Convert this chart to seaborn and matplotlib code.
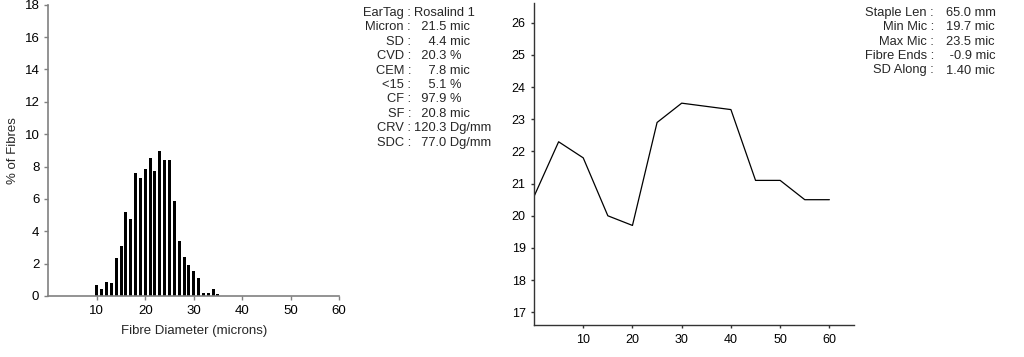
import numpy as np
import pandas as pd
import seaborn as sns
from matplotlib import pyplot as plt

# Fibre diameter histogram (% of fibres per micron class)
diameters = list(range(10, 36))
pct_fibres = [0.66, 0.45, 0.88, 0.78, 2.33, 3.1, 5.2, 4.77, 7.6, 7.3,
              7.86, 8.5, 7.75, 8.93, 8.4, 8.4, 5.86, 3.42, 2.43, 1.9,
              1.52, 1.13, 0.2, 0.2, 0.45, 0.1]

# Micron profile along the staple
position = [0, 5, 10, 15, 20, 25, 30, 35, 40, 45, 50, 55, 60]
micron_along = [20.6, 22.3, 21.8, 20.0, 19.7, 22.9, 23.5, 23.4, 23.3, 21.1, 21.1, 20.5, 20.5]

stats_left_labels = ["EarTag :", "Micron :", "SD :", "CVD :", "CEM :", "<15 :",
                     "CF :", "SF :", "CRV :", "SDC :"]
stats_left_values = ["Rosalind 1", "  21.5 mic", "    4.4 mic", "  20.3 %", "    7.8 mic",
                     "    5.1 %", "  97.9 %", "  20.8 mic", "120.3 Dg/mm", "  77.0 Dg/mm"]
stats_right_labels = ["Staple Len :", "Min Mic :", "Max Mic :", "Fibre Ends :", "SD Along :"]
stats_right_values = ["65.0 mm", "19.7 mic", "23.5 mic", " -0.9 mic", "1.40 mic"]

sns.set_style("ticks")
plt.rcParams['font.family'] = ['Liberation Sans', 'DejaVu Sans']

W, H = 1024, 357
fig = plt.figure(figsize=(W / 100, H / 100), dpi=100)


def px(x, y):
    return x / W, 1 - y / H


# left: histogram
ax1 = fig.add_axes([48.4 / W, (H - 296) / H, (339 - 48.4) / W, (296 - 4.7) / H])
df = pd.DataFrame({"diam": diameters, "pct": pct_fibres})
sns.barplot(data=df, x="diam", y="pct", native_scale=True, color="black",
            width=0.62, saturation=1, linewidth=0, ax=ax1)
ax1.set_xlim(0, 60)
ax1.set_ylim(0, 18)
ax1.set_xticks(np.arange(10, 61, 10))
ax1.set_yticks(np.arange(0, 19, 2))
ax1.set_xlabel("Fibre Diameter (microns)", fontsize=9.5, labelpad=6)
ax1.set_ylabel("% of Fibres", fontsize=9.5, labelpad=4)
for s in ["top", "right"]:
    ax1.spines[s].set_visible(False)
for s in ["left", "bottom"]:
    ax1.spines[s].set_color("#808080")
    ax1.spines[s].set_linewidth(1.2)
ax1.tick_params(colors="#808080", labelcolor="black", length=3, width=1, labelsize=9.5)

# right: micron along staple
ax2 = fig.add_axes([534 / W, (H - 325.2) / H, 320 / W, (325.2 - 3.4) / H])
sns.lineplot(x=position, y=micron_along, color="black", linewidth=0.9, ax=ax2)
ax2.set_xlim(0, 65)
ax2.set_ylim(16.6, 26.6)
ax2.set_xticks(np.arange(10, 61, 10))
ax2.set_yticks(np.arange(17, 27, 1))
for s in ["top", "right"]:
    ax2.spines[s].set_visible(False)
for s in ["left", "bottom"]:
    ax2.spines[s].set_color("#333333")
    ax2.spines[s].set_linewidth(1.0)
ax2.tick_params(colors="#333333", labelcolor="black", length=2.5, width=1, labelsize=9)

# stats text blocks
for i, (lab, val) in enumerate(zip(stats_left_labels, stats_left_values)):
    y = 12.7 + 14.45 * i
    fig.text(*px(411, y), lab, ha="right", va="center", fontsize=9.3)
    fig.text(*px(414, y), val, ha="left", va="center", fontsize=9.3)

for i, (lab, val) in enumerate(zip(stats_right_labels, stats_right_values)):
    y = 12.7 + 14.45 * i
    fig.text(*px(934, y), lab, ha="right", va="center", fontsize=9.3)
    fig.text(*px(946, y), val, ha="left", va="center", fontsize=9.3)

fig.savefig("out.png", dpi=100)
